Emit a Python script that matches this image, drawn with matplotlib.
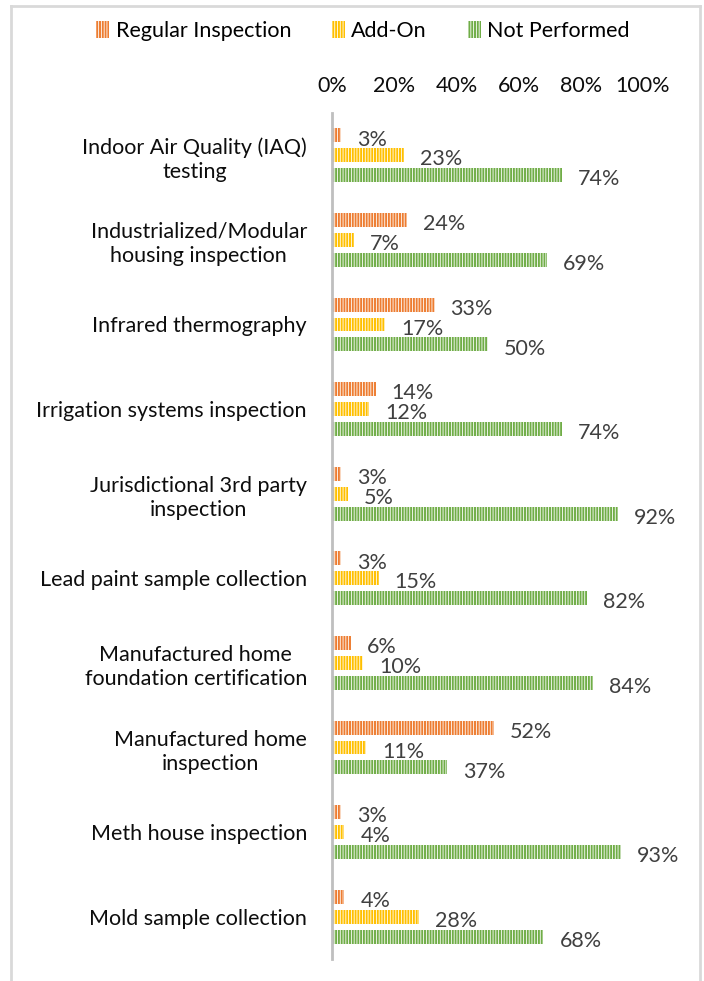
import matplotlib
matplotlib.use("Agg")
import matplotlib.pyplot as plt
from matplotlib.patches import Patch
from matplotlib.lines import Line2D
import numpy as np

categories = [
    "Indoor Air Quality (IAQ)\ntesting",
    "Industrialized/Modular\nhousing inspection",
    "Infrared thermography",
    "Irrigation systems inspection",
    "Jurisdictional 3rd party\ninspection",
    "Lead paint sample collection",
    "Manufactured home\nfoundation certification",
    "Manufactured home\ninspection",
    "Meth house inspection",
    "Mold sample collection",
]
regular = [3, 24, 33, 14, 3, 3, 6, 52, 3, 4]
addon = [23, 7, 17, 12, 5, 15, 10, 11, 4, 28]
not_performed = [74, 69, 50, 74, 92, 82, 84, 37, 93, 68]
series_names = ["Regular Inspection", "Add-On", "Not Performed"]
colors = ["#ED7D31", "#FFC000", "#70AD47"]
xticks = [0, 20, 40, 60, 80, 100]

plt.rcParams["font.family"] = ["Lato", "DejaVu Sans"]
plt.rcParams["hatch.linewidth"] = 0.6
plt.rcParams["hatch.color"] = "white"

W, H = 704, 981
fig = plt.figure(figsize=(W / 100, H / 100), dpi=100)
ax = fig.add_axes([332 / W, 1 - 959 / H, (643 - 332) / W, (959 - 113) / H])

y = np.arange(len(categories))
bh = 0.165
off = 0.236
for i, (vals, c) in enumerate(zip([regular, addon, not_performed], colors)):
    pos = y + (i - 1) * off
    ax.barh(pos, vals, height=bh, color=c, edgecolor="white", linewidth=0,
            hatch="||||||")
    for p, v in zip(pos, vals):
        ax.annotate(f"{v}%", (v, p), xytext=(11.5, -3), textcoords="offset points",
                    va="center", ha="left", fontsize=15.5, color="#404040")

ax.set_xlim(0, 100)
ax.set_ylim(len(categories) - 0.5, -0.5)
ax.set_yticks(y)
ax.set_yticklabels(categories, fontsize=15.5, color="#0d0d0d", multialignment="center",
                   linespacing=1.25)
ax.set_xticks(xticks)
ax.set_xticklabels([f"{t}%" for t in xticks], fontsize=15.5, color="#0d0d0d")
ax.xaxis.tick_top()
ax.tick_params(axis="both", length=0)
ax.tick_params(axis="y", pad=18)
ax.tick_params(axis="x", pad=12)
for s in ["top", "right", "bottom"]:
    ax.spines[s].set_visible(False)
ax.spines["left"].set_color("#bfbfbf")
ax.spines["left"].set_linewidth(2)

handles = [Patch(facecolor=c, edgecolor="white", linewidth=0, hatch="||||||") for c in colors]
fig.legend(handles, series_names, loc="center", bbox_to_anchor=(363 / W, 1 - 31 / H),
           ncol=3, frameon=False, fontsize=15.5, handlelength=0.6, handleheight=0.8,
           handletextpad=0.3, columnspacing=1.9)

bc = "#d9d9d9"
fig.add_artist(Line2D([11 / W, 11 / W], [0, 1 - 6 / H], color=bc, lw=2, transform=fig.transFigure))
fig.add_artist(Line2D([11 / W, 700 / W], [1 - 6 / H, 1 - 6 / H], color=bc, lw=2, transform=fig.transFigure))
fig.add_artist(Line2D([700 / W, 700 / W], [0, 1 - 6 / H], color=bc, lw=2, transform=fig.transFigure))

fig.savefig("out.png", dpi=100)
